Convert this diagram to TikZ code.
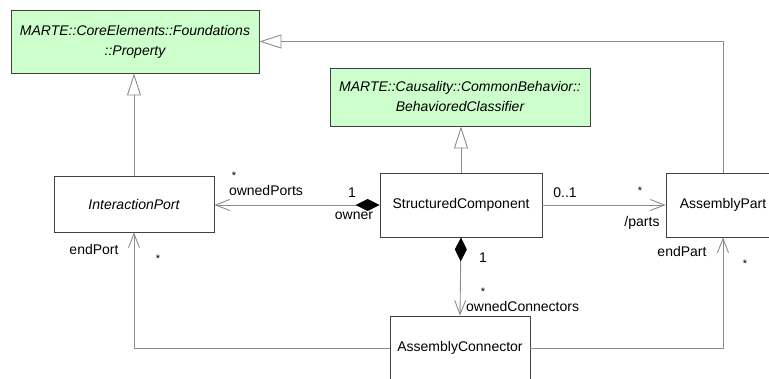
\documentclass[tikz,border=0pt]{standalone}
\usepackage{fontspec}
\setmainfont{Liberation Sans}
\usetikzlibrary{arrows.meta}
\definecolor{boxfill}{RGB}{204,255,204}
\definecolor{boxline}{RGB}{64,64,64}
\definecolor{linecol}{RGB}{140,140,140}
\tikzset{
  cls/.style={draw=boxline, line width=0.9pt, fill=white, rectangle, inner sep=0pt,
    font=\fontsize{14}{20}\selectfont, align=center},
  absgreen/.style={cls, fill=boxfill, font=\fontsize{14}{20}\selectfont\itshape},
  conn/.style={draw=linecol, line width=0.9pt},
  gen/.style={conn, -{Triangle[open, length=22pt, width=14pt, fill=white, color=linecol]}},
  nav/.style={conn, -{Straight Barb[length=14pt, width=11pt, color=linecol]}},
  comp/.style={conn, {Diamond[length=24pt, width=12pt, color=black, fill=black]}-{Straight Barb[length=14pt, width=11pt, color=linecol]}},
  lbl/.style={inner sep=0pt, font=\fontsize{14}{16}\selectfont},
  star/.style={inner sep=0pt, font=\fontsize{11}{12}\selectfont}
}
\begin{document}
\begin{tikzpicture}[x=1pt, y=-1pt]
\useasboundingbox (0,0) rectangle (769,379);
\clip (0,0) rectangle (769,379);
% classes
\node[absgreen, minimum width=248pt, minimum height=63pt] (prop) at (135,41.5)
  {MARTE::CoreElements::Foundations\\::Property};
\node[absgreen, minimum width=260pt, minimum height=58pt] (bc) at (460,97)
  {MARTE::Causality::CommonBehavior::\\BehavioredClassifier};
\node[cls, minimum width=160pt, minimum height=56pt, font=\fontsize{14}{20}\selectfont\itshape] (ip) at (134,204) {InteractionPort};
\node[cls, minimum width=162pt, minimum height=64pt] (sc) at (461,205) {StructuredComponent};
\node[cls, minimum width=114pt, minimum height=64pt] (ap) at (723,205) {AssemblyPart};
\node[cls, minimum width=140pt, minimum height=64pt] (ac) at (460,348) {AssemblyConnector};
% generalizations
\draw[gen] (ip.north) -- (ip.north |- prop.south);
\draw[gen] (sc.north) -- (sc.north |- bc.south);
\draw[gen] (ap.north) |- (prop.east);
% associations
\draw[comp] (sc.west) -- (sc.west -| ip.east);
\draw[nav] (sc.east) -- (ap.west);
\draw[comp] (sc.south) -- (ac.north);
\draw[nav] (ac.west) -| (ip.south);
\draw[nav] (ac.east) -| (ap.south);
% labels
\node[star] (s1) at (234,176) {*};
\node[lbl, anchor=base] (l1) at (266,196) {ownedPorts};
\node[lbl, anchor=base] (l2) at (352,198) {1};
\node[lbl, anchor=base] (l3) at (354,220) {owner};
\node[lbl, anchor=base] (l4) at (565,198) {0..1};
\node[star] (s2) at (640,191) {*};
\node[lbl, anchor=base] (l5) at (642,227) {/parts};
\node[lbl, anchor=base] (l6) at (94,255) {endPort};
\node[star] (s3) at (158,259) {*};
\node[lbl, anchor=base] (l7) at (483,263) {1};
\node[star] (s4) at (483,292) {*};
\node[lbl, anchor=base west] (l8) at (466,312) {ownedConnectors};
\node[lbl, anchor=base] (l9) at (682,257) {endPart};
\node[star] (s5) at (745,264) {*};
\end{tikzpicture}
\end{document}
